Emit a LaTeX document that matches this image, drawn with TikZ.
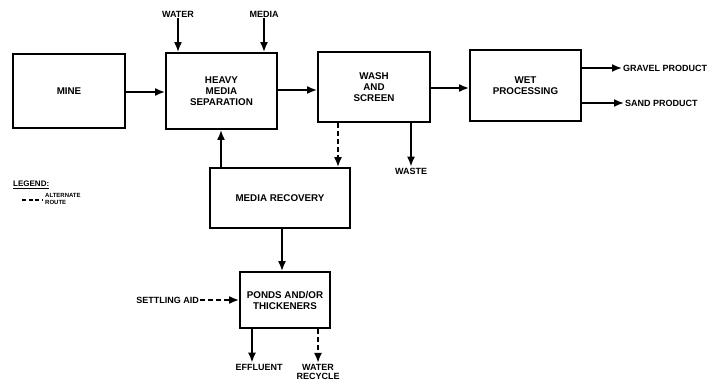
\documentclass[tikz,border=0pt]{standalone}
\usepackage{fontspec}
\setmainfont{Liberation Sans}
\usetikzlibrary{arrows.meta}
\begin{document}
\begin{tikzpicture}[x=1pt,y=-1pt,
  box/.style={draw, line width=1.8pt, inner sep=0pt, align=center, font=\bfseries\fontsize{9.8}{11}\selectfont},
  lbl/.style={font=\bfseries\fontsize{9}{9.5}\selectfont, inner sep=1pt, align=center},
  flow/.style={line width=1.8pt, -{Latex[length=10pt,width=8pt]}},
  alt/.style={flow, dash pattern=on 5pt off 3pt}]
\useasboundingbox (0,0) rectangle (717,385);
\node[box, minimum width=112pt, minimum height=74pt] (mine) at (69,91) {MINE};
\node[box, minimum width=111pt, minimum height=76pt] (hms) at (221.5,91) {HEAVY\\MEDIA\\SEPARATION};
\node[box, minimum width=112pt, minimum height=70pt] (wash) at (374,87) {WASH\\AND\\SCREEN};
\node[box, minimum width=111pt, minimum height=71pt] (wet) at (525.5,85.5) {WET\\PROCESSING};
\node[box, minimum width=140pt, minimum height=60pt] (mr) at (280,198) {MEDIA RECOVERY};
\node[box, minimum width=90pt, minimum height=56pt] (ponds) at (285,300) {PONDS AND/OR\\THICKENERS};

\node[lbl] (water) at (178,14) {WATER};
\node[lbl] (media) at (264,14) {MEDIA};
\node[lbl, anchor=west] (gravel) at (622,68) {GRAVEL PRODUCT};
\node[lbl, anchor=west] (sand) at (624,103) {SAND PRODUCT};
\node[lbl] (waste) at (411,171) {WASTE};
\node[lbl, anchor=east] (settle) at (200,300) {SETTLING AID};
\node[lbl] (effl) at (259,367) {EFFLUENT};
\node[lbl] (wrec) at (318,372) {WATER\\RECYCLE};

\draw[flow] (water) -- (water.south |- hms.north);
\draw[flow] (media) -- (media.south |- hms.north);
\draw[flow] (mine.east |- 0,92) -- (hms.west |- 0,92);
\draw[flow] (hms.east |- 0,90) -- (wash.west |- 0,90);
\draw[flow] (wash.east |- 0,88) -- (wet.west |- 0,88);
\draw[flow] (wet.east |- gravel.west) -- (gravel.west);
\draw[flow] (wet.east |- sand.west) -- (sand.west);
\draw[flow] (waste.north |- wash.south) -- (waste.north);
\coordinate (wd) at (338,122);
\draw[alt] (wd |- wash.south) -- (wd |- mr.north);
\coordinate (mu) at (221,168);
\draw[flow] (mu |- mr.north) -- (mu |- hms.south);
\coordinate (md) at (282,228);
\draw[flow] (md |- mr.south) -- (md |- ponds.north);
\draw[alt] (settle.east) -- (ponds.west |- settle.east);
\coordinate (ed) at (252,328);
\draw[flow] (ed |- ponds.south) -- (ed |- effl.north);
\draw[alt] (wrec.north |- ponds.south) -- (wrec.north);

\node[lbl, anchor=west, font=\bfseries\fontsize{8}{9}\selectfont] (legend) at (12,185) {\underline{LEGEND:}};
\coordinate (l1) at (22,200);
\coordinate (l2) at (42,200);
\draw[line width=1.8pt, dash pattern=on 4pt off 2.5pt] (l1) -- (l2);
\node[lbl, anchor=west, align=left, font=\bfseries\fontsize{6}{6.5}\selectfont] (altr) at (44,199) {ALTERNATE\\ROUTE};
\end{tikzpicture}
\end{document}
